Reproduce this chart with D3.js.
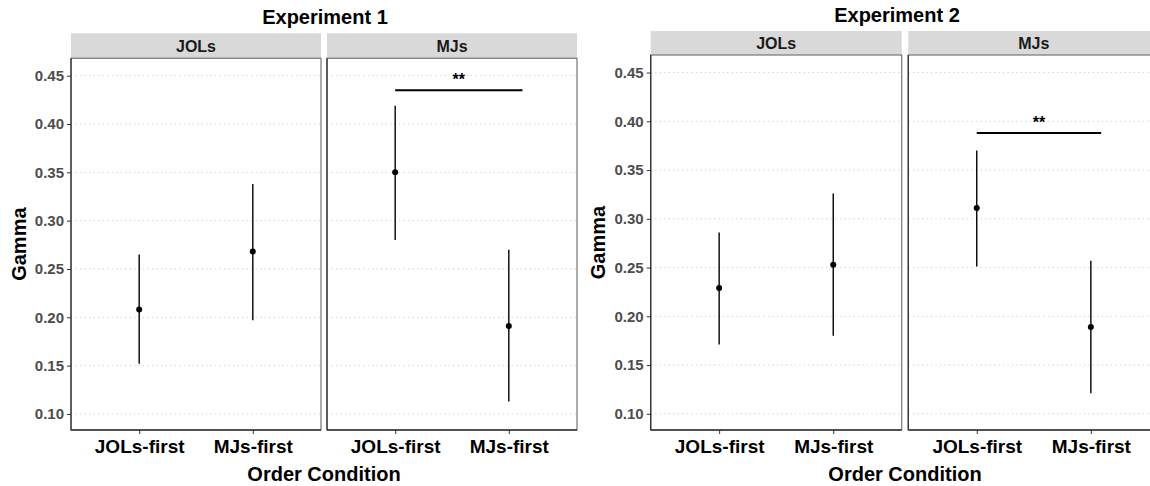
<!DOCTYPE html>
<html>
<head>
<meta charset="utf-8">
<script src="https://cdn.jsdelivr.net/npm/d3@7"></script>
<style>
  body { margin: 0; background: #fff; }
  svg { font-family: "Liberation Sans", Arial, sans-serif; }
</style>
</head>
<body>
<div id="svg-container"></div>
<script>
// data
const panels = ["JOLs", "MJs"]
const orders = ["JOLs-first", "MJs-first"]
const yTicks = [0.10, 0.15, 0.20, 0.25, 0.30, 0.35, 0.40, 0.45]

// order: JOLs panel (JOLs-first, MJs-first), MJs panel (JOLs-first, MJs-first)
const exp1Mean = [0.208, 0.268, 0.350, 0.191]
const exp1Low  = [0.152, 0.197, 0.280, 0.113]
const exp1High = [0.265, 0.338, 0.419, 0.270]
const exp1Sig  = { panel: "MJs", from: 1, to: 2.12, y: 0.435, label: "**" }

const exp2Mean = [0.229, 0.253, 0.311, 0.189]
const exp2Low  = [0.171, 0.180, 0.251, 0.121]
const exp2High = [0.286, 0.326, 0.370, 0.257]
const exp2Sig  = { panel: "MJs", from: 1, to: 2.09, y: 0.388, label: "**" }

const width = 1150, height = 486

const svg = d3.select('#svg-container')
    .append('svg')
    .attr('width', width)
    .attr('height', height)

const rows = (mean, low, high) => {
    let out = []
    panels.forEach((p, i) => {
        orders.forEach((o, j) => {
            let k = i * 2 + j
            out.push({ panel: p, order: o, mean: mean[k], low: low[k], high: high[k] })
        })
    })
    return out
}

// one ggplot-like faceted chart
const drawChart = (opt) => {
    let g = svg.append('g')
    let data = rows(opt.mean, opt.low, opt.high)

    let y = d3.scaleLinear()
        .domain([0.0834, 0.468])
        .range([opt.bottom, opt.top])

    // title
    g.append('text')
        .attr('x', opt.titleX)
        .attr('y', opt.stripTop - 9)
        .attr('text-anchor', 'middle')
        .attr('font-size', 20)
        .attr('font-weight', 'bold')
        .attr('fill', '#000')
        .text(opt.title)

    panels.forEach((p, i) => {
        let x0 = opt.panelX[i]
        let x = d3.scalePoint()
            .domain(orders)
            .range([x0, x0 + opt.panelW])
            .padding(0.6)
        let xNum = d3.scaleLinear()
            .domain([0.4, 2.6])
            .range([x0, x0 + opt.panelW])

        // strip
        g.append('rect')
            .attr('x', x0)
            .attr('y', opt.stripTop)
            .attr('width', opt.panelW)
            .attr('height', opt.top - opt.stripTop)
            .attr('fill', '#d9d9d9')
        g.append('text')
            .attr('x', x0 + opt.panelW / 2)
            .attr('y', (opt.stripTop + opt.top) / 2)
            .attr('dy', '0.36em')
            .attr('text-anchor', 'middle')
            .attr('font-size', 16)
            .attr('font-weight', 'bold')
            .attr('fill', '#1a1a1a')
            .text(p)

        // grid
        g.append('g')
            .selectAll('line')
            .data(yTicks)
            .enter()
            .append('line')
            .attr('x1', x0)
            .attr('x2', x0 + opt.panelW)
            .attr('y1', d => y(d))
            .attr('y2', d => y(d))
            .attr('stroke', '#d4d4d4')
            .attr('stroke-width', 1)
            .attr('stroke-dasharray', '1.5,3')

        // panel border
        g.append('rect')
            .attr('x', x0)
            .attr('y', opt.top)
            .attr('width', opt.panelW)
            .attr('height', opt.bottom - opt.top)
            .attr('fill', 'none')
            .attr('stroke', '#7f7f7f')
            .attr('stroke-width', 1.3)

        // axis lines
        g.append('line')
            .attr('x1', x0).attr('x2', x0)
            .attr('y1', opt.top).attr('y2', opt.bottom)
            .attr('stroke', '#333').attr('stroke-width', 1.3)
        g.append('line')
            .attr('x1', x0).attr('x2', x0 + opt.panelW)
            .attr('y1', opt.bottom).attr('y2', opt.bottom)
            .attr('stroke', '#333').attr('stroke-width', 1.3)

        // x axis
        let xAxis = g.append('g')
            .attr('transform', `translate(0, ${opt.bottom})`)
            .call(d3.axisBottom(x).tickSize(4).tickPadding(6))
        xAxis.select('.domain').remove()
        xAxis.selectAll('line').attr('stroke', '#333')
        xAxis.selectAll('text')
            .attr('font-size', 19)
            .attr('font-weight', 'bold')
            .attr('fill', '#000')
            .attr('font-family', '"Liberation Sans", Arial, sans-serif')

        // error bars + points
        let pd = data.filter(d => d.panel == p)
        g.selectAll('.err' + opt.id + i)
            .data(pd)
            .enter()
            .append('line')
            .attr('x1', d => x(d.order))
            .attr('x2', d => x(d.order))
            .attr('y1', d => y(d.low))
            .attr('y2', d => y(d.high))
            .attr('stroke', '#000')
            .attr('stroke-width', 1.4)
        g.selectAll('.pt' + opt.id + i)
            .data(pd)
            .enter()
            .append('circle')
            .attr('cx', d => x(d.order))
            .attr('cy', d => y(d.mean))
            .attr('r', 3)
            .attr('fill', '#000')

        // significance bar
        if (opt.sig.panel == p) {
            g.append('line')
                .attr('x1', xNum(opt.sig.from))
                .attr('x2', xNum(opt.sig.to))
                .attr('y1', y(opt.sig.y))
                .attr('y2', y(opt.sig.y))
                .attr('stroke', '#000')
                .attr('stroke-width', 2)
            g.append('text')
                .attr('x', (xNum(opt.sig.from) + xNum(opt.sig.to)) / 2)
                .attr('y', y(opt.sig.y) - 5)
                .attr('text-anchor', 'middle')
                .attr('font-size', 16)
                .attr('font-weight', 'bold')
                .text(opt.sig.label)
        }
    })

    // y axis (left panel only)
    let yAxis = g.append('g')
        .attr('transform', `translate(${opt.panelX[0]}, 0)`)
        .call(d3.axisLeft(y).tickValues(yTicks).tickFormat(d3.format('.2f')).tickSize(4).tickPadding(3))
    yAxis.select('.domain').remove()
    yAxis.selectAll('line').attr('stroke', '#333')
    yAxis.selectAll('text')
        .attr('font-size', 15)
        .attr('font-weight', 'bold')
        .attr('fill', '#4d4d4d')
        .attr('font-family', '"Liberation Sans", Arial, sans-serif')

    // axis titles
    g.append('text')
        .attr('transform', `translate(${opt.gammaX}, ${(opt.top + opt.bottom) / 2}) rotate(-90)`)
        .attr('dy', '0.36em')
        .attr('text-anchor', 'middle')
        .attr('font-size', 20)
        .attr('font-weight', 'bold')
        .text('Gamma')
    g.append('text')
        .attr('x', (opt.panelX[0] + opt.panelX[1] + opt.panelW) / 2)
        .attr('y', 481)
        .attr('text-anchor', 'middle')
        .attr('font-size', 20)
        .attr('font-weight', 'bold')
        .text('Order Condition')
}

drawChart({
    id: 'a', title: 'Experiment 1', titleX: 325,
    mean: exp1Mean, low: exp1Low, high: exp1High, sig: exp1Sig,
    panelX: [71, 327], panelW: 250,
    stripTop: 33.3, top: 58.3, bottom: 430, gammaX: 19
})

drawChart({
    id: 'b', title: 'Experiment 2', titleX: 897,
    mean: exp2Mean, low: exp2Low, high: exp2High, sig: exp2Sig,
    panelX: [650.7, 908.3], panelW: 251,
    stripTop: 31, top: 55, bottom: 430, gammaX: 598
})
</script>
</body>
</html>
